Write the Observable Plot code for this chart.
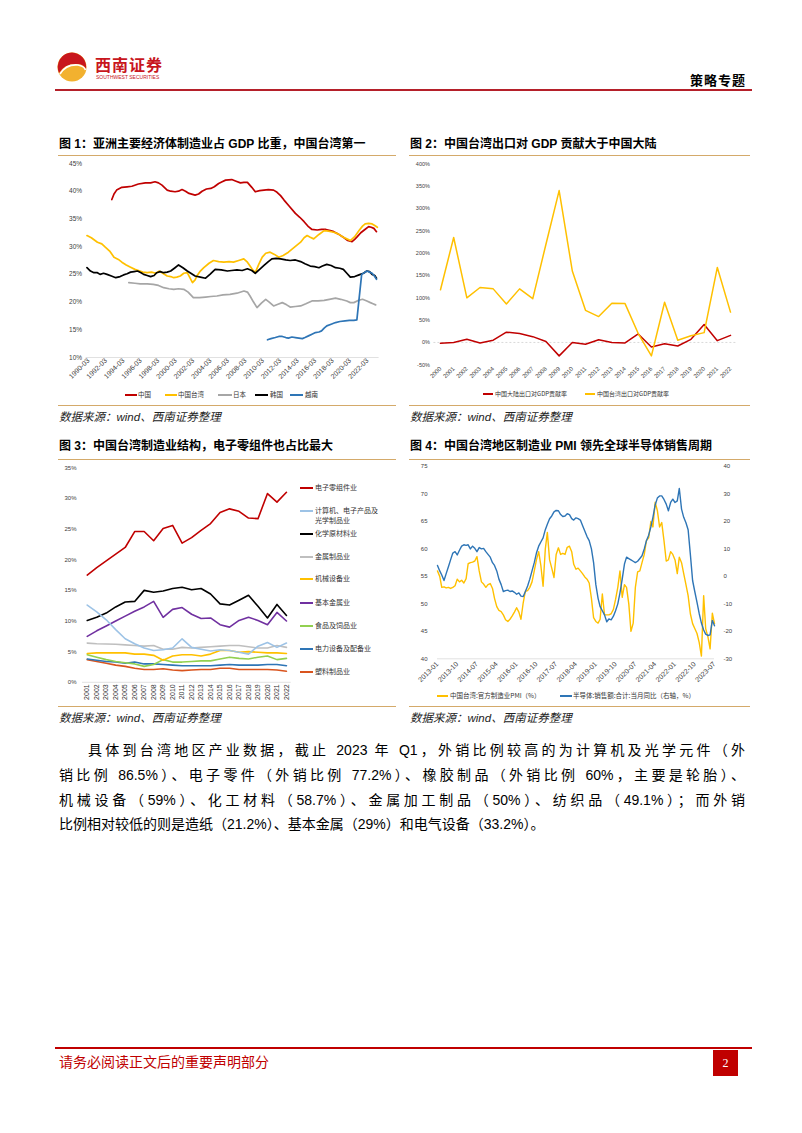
<!DOCTYPE html>
<html><head><meta charset="utf-8">
<script src="https://cdn.jsdelivr.net/npm/d3@7"></script>
<script src="https://cdn.jsdelivr.net/npm/@observablehq/plot@0.6"></script>
<style>
body{margin:0;background:#fff;}
#page{position:relative;width:802px;height:1133px;overflow:hidden;background:#fff;font-family:"Liberation Sans","Noto Sans CJK SC",sans-serif;}
.abs{position:absolute;white-space:nowrap;}
.title{position:absolute;white-space:nowrap;font-size:12px;line-height:14px;font-weight:700;color:#000;font-family:"Liberation Sans","Noto Sans CJK SC",sans-serif;}
.tan{position:absolute;height:0;border-top:1px solid #d4aa6a;}
.src{position:absolute;white-space:nowrap;font-size:11.5px;line-height:14px;font-style:italic;color:#222;font-family:"Liberation Sans","Noto Sans CJK SC",sans-serif;}
.para{position:absolute;font-size:14px;line-height:20px;color:#000;text-align:justify;text-align-last:justify;white-space:nowrap;font-family:"Liberation Sans","Noto Sans CJK SC",sans-serif;}
svg.plot{position:absolute;}
</style></head>
<body><div id="page">
<!-- header -->
<svg class="abs" style="left:56px;top:51px" width="32" height="32" viewBox="0 0 32 32">
  <circle cx="16" cy="16" r="14.5" fill="#f2b12f"/>
  <path d="M16 1.5 A14.5 14.5 0 0 0 3 22 Q9 12 22 13 Q28 13.5 30 18 A14.5 14.5 0 0 0 16 1.5Z" fill="#c8161d"/>
  <path d="M4 23 Q10 13 22 14 Q28 15 29.5 19" fill="none" stroke="#fff" stroke-width="1.6"/>
</svg>
<div class="abs" style="left:95px;top:54px;font-size:16px;line-height:20px;font-weight:700;color:#c8161d;letter-spacing:1px;font-family:'Noto Sans CJK SC'">西南证券</div>
<div class="abs" style="left:96px;top:74px;font-size:5px;line-height:6px;color:#c8161d;font-family:'Liberation Sans'">SOUTHWEST SECURITIES</div>
<div class="abs" style="left:690px;top:72px;font-size:13px;line-height:16px;font-weight:700;color:#000;letter-spacing:1px;font-family:'Noto Sans CJK SC'">策略专题</div>
<div class="abs" style="left:55px;top:89px;width:697px;height:2px;background:#b5202a"></div>

<!-- titles -->
<div class="title" style="left:59px;top:137px">图 1：亚洲主要经济体制造业占 GDP 比重，中国台湾第一</div>
<div class="tan" style="left:58px;top:155px;width:338px"></div>
<div class="title" style="left:410px;top:137px">图 2：中国台湾出口对 GDP 贡献大于中国大陆</div>
<div class="tan" style="left:409px;top:155px;width:341px"></div>
<div class="title" style="left:59px;top:439px">图 3：中国台湾制造业结构，电子零组件也占比最大</div>
<div class="tan" style="left:58px;top:459px;width:338px"></div>
<div class="title" style="left:410px;top:439px">图 4：中国台湾地区制造业 PMI 领先全球半导体销售周期</div>
<div class="tan" style="left:409px;top:459px;width:341px"></div>

<!-- sources -->
<div class="tan" style="left:58px;top:405px;width:338px"></div>
<div class="src" style="left:59px;top:410px">数据来源：wind、西南证券整理</div>
<div class="tan" style="left:409px;top:405px;width:341px"></div>
<div class="src" style="left:410px;top:410px">数据来源：wind、西南证券整理</div>
<div class="tan" style="left:58px;top:706px;width:338px"></div>
<div class="src" style="left:59px;top:711px">数据来源：wind、西南证券整理</div>
<div class="tan" style="left:409px;top:706px;width:341px"></div>
<div class="src" style="left:410px;top:711px">数据来源：wind、西南证券整理</div>

<!-- paragraph -->
<div class="para" style="left:88px;top:740px;width:657px">具体到台湾地区产业数据，截止 2023 年 Q1，外销比例较高的为计算机及光学元件（外</div>
<div class="para" style="left:59px;top:765px;width:686px">销比例 86.5%）、电子零件（外销比例 77.2%）、橡胶制品（外销比例 60%，主要是轮胎）、</div>
<div class="para" style="left:59px;top:790px;width:686px">机械设备（59%）、化工材料（58.7%）、金属加工制品（50%）、纺织品（49.1%）；而外销</div>
<div class="para" style="left:59px;top:814px;text-align:left;text-align-last:left">比例相对较低的则是造纸（21.2%）、基本金属（29%）和电气设备（33.2%）。</div>

<!-- footer -->
<div class="abs" style="left:55px;top:1047px;width:697px;height:1.5px;background:#c00000"></div>
<div class="abs" style="left:59px;top:1052px;font-size:14px;line-height:18px;color:#c00000;font-family:'Noto Sans CJK SC'">请务必阅读正文后的重要声明部分</div>
<div class="abs" style="left:713px;top:1050px;width:25px;height:26px;background:#c00000;color:#fff;font-size:12px;line-height:26px;text-align:center;font-family:'Liberation Serif'">2</div>
</div>
<script>
// ---------- Chart 1 data: manufacturing share of GDP (%), [decimal year, value] ----------
const china1 = [[1992.85,38.5],[1993.1,39.5],[1993.4,40.2],[1994.0,40.7],[1994.6,40.8],[1995.15,40.9],[1995.9,41.3],[1996.7,41.5],[1997.3,41.5],[1997.8,41.7],[1998.2,41.5],[1998.6,41.1],[1999.2,40.2],[1999.6,40.0],[2000.1,39.9],[2000.5,40.0],[2000.9,40.3],[2001.3,40.0],[2001.7,39.6],[2002.4,39.3],[2002.8,39.5],[2003.2,40.0],[2003.7,40.4],[2004.2,40.5],[2004.6,40.8],[2005.1,41.4],[2005.5,41.7],[2005.9,42.0],[2006.6,42.1],[2007.1,41.8],[2007.6,41.5],[2008.0,41.6],[2008.4,41.6],[2008.9,40.7],[2009.3,39.9],[2009.8,40.1],[2010.3,40.2],[2010.8,40.3],[2011.4,40.2],[2011.8,39.8],[2012.2,39.2],[2012.6,38.4],[2013.2,37.3],[2013.9,36.0],[2014.4,35.3],[2014.9,34.5],[2015.4,33.6],[2015.8,33.1],[2016.4,33.0],[2016.9,33.1],[2017.4,33.1],[2017.9,32.9],[2018.3,32.7],[2018.8,32.3],[2019.3,31.8],[2019.9,31.1],[2020.4,30.9],[2020.7,31.3],[2021.0,31.8],[2021.4,32.5],[2021.8,33.0],[2022.3,33.6],[2022.6,33.5],[2022.9,33.3],[2023.2,32.7]];
const taiwan1 = [[1990.0,32.0],[1990.5,31.6],[1991.2,30.8],[1991.7,30.5],[1992.1,29.9],[1992.6,29.2],[1993.1,28.1],[1993.6,27.7],[1994.0,27.2],[1994.5,26.7],[1995.0,26.3],[1995.5,25.9],[1995.9,25.7],[1996.4,25.4],[1996.9,25.3],[1997.4,25.4],[1997.9,25.2],[1998.3,25.6],[1998.6,25.3],[1999.2,24.7],[1999.6,24.6],[1999.95,24.4],[2000.3,24.5],[2000.7,24.7],[2001.1,25.2],[2001.5,25.3],[2001.8,24.4],[2002.1,23.5],[2002.4,24.0],[2002.6,24.7],[2003.0,25.6],[2003.4,26.2],[2004.0,27.0],[2004.5,27.5],[2005.1,27.3],[2005.7,27.2],[2006.3,27.3],[2006.8,27.2],[2007.4,27.5],[2007.98,27.8],[2008.4,27.2],[2008.7,26.5],[2009.0,25.8],[2009.3,25.3],[2009.7,26.8],[2010.1,28.1],[2010.5,28.8],[2011.0,29.0],[2011.5,28.6],[2012.0,28.1],[2012.5,28.4],[2013.1,29.0],[2013.8,29.9],[2014.5,30.8],[2014.9,31.6],[2015.25,32.0],[2015.6,31.7],[2016.0,31.4],[2016.6,32.2],[2017.2,32.9],[2017.7,32.8],[2018.3,32.6],[2018.8,32.3],[2019.4,31.7],[2019.8,31.4],[2020.2,31.1],[2020.7,31.8],[2021.2,32.9],[2021.6,33.7],[2021.9,34.1],[2022.3,34.2],[2022.7,34.1],[2023.0,33.8],[2023.3,33.5]];
const japan1 = [[1994.8,23.5],[1995.5,23.4],[1996.1,23.3],[1996.9,23.3],[1997.6,23.2],[1998.2,23.0],[1998.8,22.6],[1999.4,22.4],[1999.95,22.3],[2000.5,22.4],[2001.1,22.3],[2001.6,21.8],[2002.2,20.8],[2002.9,20.8],[2003.6,20.9],[2004.2,21.0],[2004.9,21.1],[2005.6,21.3],[2006.4,21.4],[2007.2,21.6],[2008.0,22.0],[2008.4,21.8],[2008.7,21.1],[2009.1,20.0],[2009.5,19.0],[2010.0,19.8],[2010.5,20.5],[2010.9,20.0],[2011.4,19.3],[2011.9,19.6],[2012.4,19.9],[2012.9,19.5],[2013.3,19.1],[2013.9,19.2],[2014.5,19.3],[2015.1,19.7],[2015.8,20.2],[2016.5,20.2],[2017.2,20.3],[2017.8,20.5],[2018.5,20.7],[2019.1,20.5],[2019.8,20.2],[2020.2,19.9],[2020.6,19.9],[2021.1,20.3],[2021.6,20.5],[2022.1,20.2],[2022.5,19.9],[2022.8,19.7],[2023.1,19.5]];
const korea1 = [[1990.0,26.2],[1990.4,25.6],[1990.8,25.3],[1991.2,25.3],[1991.5,25.0],[1991.9,25.2],[1992.3,25.0],[1992.8,24.7],[1993.3,24.4],[1993.8,24.6],[1994.2,24.9],[1994.6,25.1],[1995.0,25.4],[1995.4,25.5],[1995.8,25.6],[1996.2,25.3],[1996.5,25.0],[1996.9,24.8],[1997.3,24.6],[1997.7,24.8],[1998.0,25.3],[1998.4,25.5],[1998.8,25.3],[1999.2,25.4],[1999.6,25.6],[2000.1,26.2],[2000.5,26.7],[2001.0,26.2],[2001.5,25.6],[2002.0,25.1],[2002.4,24.7],[2003.0,24.5],[2003.6,24.3],[2004.1,25.0],[2004.7,25.9],[2005.4,25.8],[2006.1,25.6],[2006.6,25.7],[2007.2,25.8],[2007.8,25.7],[2008.4,26.0],[2008.9,25.7],[2009.3,25.2],[2009.8,25.9],[2010.3,26.6],[2010.8,27.3],[2011.2,27.8],[2011.7,27.9],[2012.2,27.8],[2012.8,27.6],[2013.3,27.5],[2013.9,27.6],[2014.5,27.3],[2015.0,26.9],[2015.6,26.5],[2016.1,26.4],[2016.6,26.2],[2017.0,26.5],[2017.5,26.8],[2018.0,26.6],[2018.5,26.2],[2019.0,26.1],[2019.4,25.9],[2019.8,25.2],[2020.2,24.5],[2020.7,24.6],[2021.2,24.9],[2021.7,25.2],[2022.1,25.6],[2022.4,25.5],[2022.7,25.0],[2023.0,24.8],[2023.2,24.3]];
const vietnam1 = [[2010.7,13.2],[2011.1,13.4],[2011.6,13.6],[2012.0,13.8],[2012.4,13.8],[2012.8,13.6],[2013.1,13.5],[2013.5,13.7],[2013.9,13.6],[2014.3,13.5],[2014.7,13.4],[2015.0,13.6],[2015.4,13.9],[2015.8,14.2],[2016.2,14.5],[2016.6,14.6],[2016.9,14.8],[2017.2,15.3],[2017.5,15.7],[2018.0,16.0],[2018.5,16.3],[2019.0,16.5],[2019.6,16.6],[2020.1,16.7],[2020.6,16.7],[2020.95,16.8],[2021.5,25.0],[2021.8,25.3],[2022.1,25.6],[2022.4,25.4],[2022.7,25.2],[2023.0,24.6],[2023.2,24.1]];
const yTicks1 = [10,15,20,25,30,35,40,45];
const xTickYears1 = [1990,1992,1994,1996,1998,2000,2002,2004,2006,2008,2010,2012,2014,2016,2018,2020,2022];
const names1 = ["中国","中国台湾","日本","韩国","越南"];

// ---------- Chart 2 data: export contribution to GDP growth (%) ----------
const years2 = [2000,2001,2002,2003,2004,2005,2006,2007,2008,2009,2010,2011,2012,2013,2014,2015,2016,2017,2018,2019,2020,2021,2022];
const mainland2 = [-2,0,7,-1,5,23,20,13,2,-30,0,-4,6,0,-1,19,-10,-3,-8,7,40,4,16];
const taiwan2 = [118,235,100,123,120,86,120,98,220,340,160,72,58,88,87,20,-30,90,5,15,22,168,68];
const yTicks2 = [-50,0,50,100,150,200,250,300,350,400];
const names2 = ["中国大陆出口对GDP贡献率","中国台湾出口对GDP贡献率"];

// ---------- Chart 3 data: Taiwan manufacturing structure (%) ----------
const years3 = [2001,2002,2003,2004,2005,2006,2007,2008,2009,2010,2011,2012,2013,2014,2015,2016,2017,2018,2019,2020,2021,2022];
const elec3 = [17.5,18.7,19.8,20.9,22.0,24.6,24.6,23.1,25.1,25.6,22.7,23.6,24.8,25.9,27.7,28.3,27.9,26.8,26.7,30.8,29.4,31.0];
const computer3 = [12.6,11.5,10.2,8.6,7.1,6.3,5.6,5.2,5.3,5.6,7.1,5.7,5.4,5.1,5.3,5.2,4.9,4.6,5.9,6.5,5.7,6.4];
const chem3 = [10.1,10.6,11.3,12.3,13.1,13.2,15.0,14.7,14.9,15.3,15.5,15.1,15.3,14.4,12.8,12.6,13.4,14.2,12.4,10.5,12.7,10.9];
const metalProd3 = [6.4,6.3,6.25,6.2,6.1,6.0,5.9,6.0,5.4,5.4,5.7,5.6,5.7,5.8,5.9,6.0,6.0,5.8,5.6,5.6,6.0,5.7];
const machinery3 = [4.7,4.8,4.8,4.8,4.8,4.6,4.6,4.4,3.6,4.3,4.5,4.5,4.3,4.6,5.2,5.2,4.9,5.0,4.9,4.8,4.8,4.7];
const basicMetal3 = [7.5,8.4,9.2,10.0,10.8,11.6,12.3,13.2,10.6,11.9,12.2,11.1,10.4,10.5,9.4,9.0,10.1,10.6,10.1,9.4,11.4,10.0];
const food3 = [4.5,4.1,3.7,3.4,3.2,3.0,2.6,2.9,3.7,3.3,3.3,3.4,3.5,3.5,3.8,4.1,3.9,3.8,4.1,4.3,3.7,3.9];
const power3 = [3.8,3.6,3.4,3.3,3.1,3.3,3.0,3.0,2.9,2.8,2.7,2.7,2.7,2.7,2.8,2.9,2.8,2.8,2.8,2.9,2.9,2.7];
const plastic3 = [3.7,3.4,3.1,2.8,2.6,2.3,2.1,2.1,2.2,2.0,1.9,2.0,2.1,2.1,2.3,2.3,2.1,2.1,2.1,2.1,2.0,1.8];
const yTicks3 = [0,5,10,15,20,25,30,35];
const names3 = ["电子零组件业","计算机、电子产品及光学制品业","化学原材料业","金属制品业","机械设备业","基本金属业","食品及饲品业","电力设备及配备业","塑料制品业"];

// ---------- Chart 4 data: monthly from 2013-01 to 2023-07 ----------
const pmi4 = [56.0,55.0,53.0,53.1,52.9,53.0,52.8,53.0,53.3,54.5,
54.0,54.3,53.8,54.6,57.3,57.5,57.6,57.8,58.6,56.0,
54.0,53.6,53.0,53.5,53.7,52.8,51.0,49.5,48.8,48.6,
48.0,47.1,46.8,47.2,47.8,48.5,49.3,48.5,47.2,50.2,
52.3,52.4,53.0,54.0,56.0,58.0,59.5,57.0,53.2,60.0,
63.0,58.0,56.5,54.8,59.0,60.2,59.0,59.2,59.0,60.3,
60.5,59.5,57.2,56.3,56.5,56.0,55.5,54.9,54.5,53.8,
51.0,47.5,46.8,46.5,47.2,51.8,48.0,48.0,48.0,48.2,
49.0,50.8,53.0,56.0,51.2,53.5,53.0,50.0,45.0,46.5,
53.0,55.8,56.0,57.5,59.0,61.5,62.0,65.0,64.0,68.5,
67.0,64.0,64.8,61.5,57.8,58.0,59.5,59.0,58.0,55.5,
58.5,57.5,55.5,53.5,51.5,48.2,46.4,45.5,44.6,43.0,
40.5,51.5,45.5,44.0,41.8,48.3,46.4];
const semi4 = [4.0,2.0,0.5,-1.5,1.0,3.5,6.0,8.5,9.0,7.8,
9.5,11.0,11.5,11.3,11.5,10.0,11.0,10.2,9.0,10.5,
10.0,10.2,9.0,8.0,7.0,5.0,4.0,2.0,-1.0,-3.0,
-5.5,-5.2,-5.0,-5.5,-5.3,-5.8,-6.5,-6.0,-7.2,-7.3,
-5.5,-3.5,-1.0,2.0,5.0,8.5,11.0,12.5,14.0,17.0,
19.0,21.0,22.0,23.5,24.0,23.9,22.5,21.8,22.0,22.8,
22.5,21.0,20.5,21.3,21.0,20.5,18.5,16.5,14.5,13.0,
10.0,5.0,-3.0,-8.0,-11.0,-12.5,-14.0,-16.5,-15.5,-15.8,
-14.5,-12.5,-10.0,-6.0,-1.0,4.5,7.0,6.5,6.0,5.5,
5.0,5.5,6.5,7.5,10.0,13.0,15.0,18.0,21.5,26.0,
28.5,29.3,29.3,28.0,26.3,23.9,26.9,28.1,26.9,27.5,
32.0,24.5,21.5,19.5,17.0,8.0,-1.5,-5.5,-9.5,-13.5,
-17.0,-19.5,-21.0,-21.5,-21.3,-16.0,-18.0];
const yTicks4Left = [40,45,50,55,60,65,70,75];
const xTickLabels4 = ["2013-01","2013-10","2014-07","2015-04","2016-01","2016-10","2017-07","2018-04","2019-01","2019-10","2020-07","2021-04","2022-01","2022-10","2023-07"];
const names4 = ["中国台湾:官方制造业PMI（%）","半导体:销售额:合计:当月同比（右轴，%）"];

// ---------- drawing ----------
const page = document.getElementById('page');
const FONT = '"Liberation Sans","Noto Sans CJK SC",sans-serif';
function place(svg, left, top){ svg.classList.add('plot'); svg.style.left = left+'px'; svg.style.top = top+'px'; page.appendChild(svg); }
function baseStyle(fs){ return {fontFamily: FONT, fontSize: fs+'px', color: '#404040', background: 'none', overflow: 'visible'}; }
function pairLine(data, color, w){ return Plot.line(data, {x: d => d[0], y: d => d[1], stroke: color, strokeWidth: w}); }
function legendItem(x1, x2, y, color, tx, text, fs, lw){
  const l = document.createElement('div');
  l.style.cssText = `position:absolute;left:${x1}px;top:${y - lw/2}px;width:${x2-x1}px;height:${lw}px;background:${color}`;
  page.appendChild(l);
  const t = document.createElement('div');
  t.className = 'abs';
  t.style.cssText += `left:${tx}px;top:${y - fs*0.7}px;font-size:${fs}px;line-height:${fs*1.4}px;color:#333;font-family:"Noto Sans CJK SC","Liberation Sans"`;
  t.textContent = text;
  page.appendChild(t);
  return t;
}

// Chart 1
const colors1 = ['#c00000','#ffc000','#a6a6a6','#000000','#2e75b6'];
place(Plot.plot({
  width: 345, height: 250, marginTop: 8, marginBottom: 48, marginLeft: 30.6, marginRight: 21.4,
  style: baseStyle(6.5),
  x: {type: 'linear', domain: [1989.9, 2023.5]},
  y: {domain: [10, 45]},
  marks: [
    Plot.ruleY([10], {stroke: '#d9d9d9', strokeWidth: 0.8}),
    Plot.axisY(yTicks1, {tickSize: 0, tickPadding: 4, tickFormat: d => d + '%', label: null, fontSize: 6.5}),
    Plot.axisX(xTickYears1.map(y => y + 2/12), {tickSize: 0, tickPadding: 2, tickRotate: -45, tickFormat: d => Math.round(d - 2/12) + '-03', label: null, fontSize: 7}),
    pairLine(china1, colors1[0], 1.7),
    pairLine(taiwan1, colors1[1], 1.7),
    pairLine(japan1, colors1[2], 1.7),
    pairLine(korea1, colors1[3], 1.7),
    pairLine(vietnam1, colors1[4], 1.7)
  ]
}), 55, 155);
[[125,137,138],[165,177,178],[218,232,233],[255,268,270],[290,303,305]].forEach((p,i) => legendItem(p[0], p[1], 395, colors1[i], p[2], names1[i], 6.5, 1.8));

// Chart 2
place(Plot.plot({
  width: 345, height: 250, marginTop: 8.3, marginBottom: 40.7, marginLeft: 28.4, marginRight: 13.4,
  style: baseStyle(5.5),
  x: {type: 'linear', domain: [1999.5, 2022.5]},
  y: {domain: [-50, 400]},
  marks: [
    Plot.ruleY([0], {stroke: '#d0d0d0', strokeWidth: 0.8, strokeDasharray: '2,2'}),
    Plot.axisY(yTicks2, {tickSize: 0, tickPadding: 4, tickFormat: d => d + '%', label: null, fontSize: 5.5}),
    Plot.axisX(years2, {tickSize: 0, tickPadding: 3, tickRotate: -45, tickFormat: d => String(d), label: null, fontSize: 6}),
    Plot.line(years2, {x: d => d, y: (d, i) => mainland2[i], stroke: '#c00000', strokeWidth: 1.5}),
    Plot.line(years2, {x: d => d, y: (d, i) => taiwan2[i], stroke: '#ffc000', strokeWidth: 1.5})
  ]
}), 405, 155);
legendItem(483, 493, 394, '#c00000', 495, names2[0], 6, 1.6);
legendItem(585, 595, 394, '#ffc000', 597, names2[1], 6, 1.6);

// Chart 3
const series3 = [elec3, computer3, chem3, metalProd3, machinery3, basicMetal3, food3, power3, plastic3];
const colors3 = ['#c00000','#9dc3e6','#000000','#bfbfbf','#ffc000','#7030a0','#92d050','#2e75b6','#d9541e'];
const drawOrder3 = [8,7,6,5,4,3,2,1,0];
place(Plot.plot({
  width: 345, height: 250, marginTop: 7.3, marginBottom: 28.2, marginLeft: 27, marginRight: 109.3,
  style: baseStyle(6),
  x: {type: 'linear', domain: [2000.5, 2022.5]},
  y: {domain: [0, 35]},
  marks: [
    Plot.ruleY([0], {stroke: '#d9d9d9', strokeWidth: 0.8}),
    Plot.axisY(yTicks3, {tickSize: 0, tickPadding: 6, tickFormat: d => d + '%', label: null, fontSize: 6}),
    Plot.axisX(years3, {tickSize: 0, tickPadding: 2, tickRotate: -90, tickFormat: d => String(d), label: null, fontSize: 7, fill: '#333'}),
    ...drawOrder3.map(k => Plot.line(years3, {x: d => d, y: (d, i) => series3[k][i], stroke: colors3[k], strokeWidth: 1.6}))
  ]
}), 55, 460);
const legY3 = [488.3, 511, 534, 557.3, 579.3, 602.7, 625.7, 649, 671.7];
legY3.forEach((y, i) => {
  if (i === 1) {
    legendItem(300, 313, y, colors3[i], 315, '计算机、电子产品及', 7, 1.8);
    const t = document.createElement('div'); t.className = 'abs';
    t.style.cssText += `left:315px;top:${520.7-4.9}px;font-size:7px;line-height:9.8px;color:#333;font-family:"Noto Sans CJK SC"`;
    t.textContent = '光学制品业'; page.appendChild(t);
  } else legendItem(300, 313, y, colors3[i], 315, names3[i], 7, 1.8);
});

// Chart 4
const dates4 = pmi4.map((_, i) => new Date(Date.UTC(2013, i, 1)));
const parseM = d3.utcParse('%Y-%m');
place(Plot.plot({
  width: 345, height: 250, marginTop: 6, marginBottom: 51.7, marginLeft: 32, marginRight: 36,
  style: baseStyle(6),
  x: {type: 'utc', domain: [dates4[0], dates4[dates4.length - 1]]},
  y: {domain: [40, 75]},
  marks: [
    Plot.ruleY([40], {stroke: '#d9d9d9', strokeWidth: 0.8}),
    Plot.axisY(yTicks4Left, {anchor: 'left', tickSize: 0, tickPadding: 10, label: null, fontSize: 6}),
    Plot.axisY(yTicks4Left, {anchor: 'right', tickSize: 0, tickPadding: 9, label: null, fontSize: 6, tickFormat: d => String((d - 55) * 2)}),
    Plot.axisX(xTickLabels4.map(parseM), {tickSize: 0, tickPadding: 4, tickRotate: -45, tickFormat: d3.utcFormat('%Y-%m'), label: null, fontSize: 7}),
    Plot.line(dates4, {x: d => d, y: (d, i) => pmi4[i], stroke: '#ffc000', strokeWidth: 1.4}),
    Plot.line(dates4, {x: d => d, y: (d, i) => 55 + semi4[i] / 2, stroke: '#2e75b6', strokeWidth: 1.4})
  ]
}), 405, 460);
legendItem(437, 448, 696, '#ffc000', 450, names4[0], 6.5, 1.6);
legendItem(560, 572, 696, '#2e75b6', 573, names4[1], 6.5, 1.6);
</script>
</body></html>
